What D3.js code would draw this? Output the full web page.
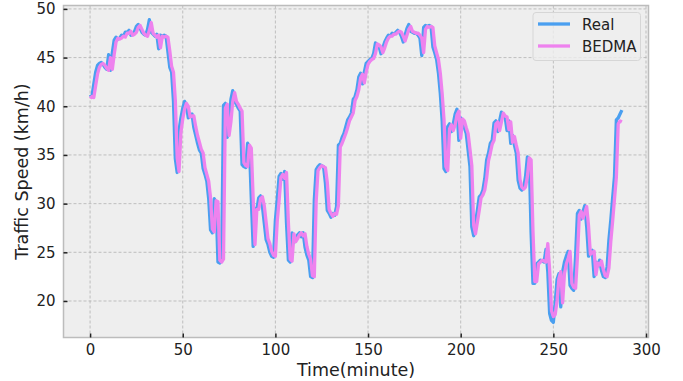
<!DOCTYPE html>
<html>
<head>
<meta charset="utf-8">
<script src="https://cdn.jsdelivr.net/npm/d3@7"></script>
<style>
  html, body { margin: 0; padding: 0; background: #ffffff; }
  svg { display: block; font-family: "DejaVu Sans", sans-serif; }
</style>
</head>
<body>
<svg id="chart" width="683" height="381"></svg>
<script>
// Traffic speed (km/h) sampled every minute, measured vs. BEDMA prediction
const realSpeed = [
  41.2, 41.0, 42.3, 43.5, 44.2, 44.4, 44.5, 44.3, 44.0, 43.8,
  45.3, 43.7, 45.5, 46.8, 47.1, 46.9, 47.0, 47.3, 47.2, 47.6,
  47.6, 47.8, 47.3, 47.4, 47.7, 48.2, 48.4, 48.0, 47.6, 47.4,
  47.3, 47.9, 48.9, 47.6, 47.4, 47.2, 47.4, 45.9, 47.3, 47.2,
  47.3, 47.2, 45.6, 44.0, 43.5, 40.5, 34.6, 33.2, 37.5, 38.8,
  39.8, 40.5, 40.1, 38.8, 39.0, 39.2, 37.8, 37.0, 36.2, 35.5,
  35.2, 33.6, 33.0, 32.3, 30.5, 27.3, 27.0, 30.5, 30.2, 24.0,
  23.9, 24.2, 40.1, 40.3, 36.8, 38.5, 40.7, 41.6, 40.5, 40.2,
  39.8, 39.5, 34.0, 33.8, 33.7, 36.2, 35.8, 30.5, 25.6, 29.5,
  29.4, 30.6, 30.8, 29.7, 28.0, 26.3, 25.8, 25.0, 24.6, 24.5,
  28.3, 30.4, 32.8, 33.1, 32.5, 33.3, 28.0, 24.2, 24.0, 27.0,
  26.0, 26.4, 26.8, 27.0, 26.6, 27.0, 25.5, 24.7, 24.2, 22.5,
  22.4, 30.4, 33.5, 33.8, 34.0, 33.9, 33.8, 32.1, 29.3, 29.0,
  28.6, 29.0, 28.8, 29.7, 36.0, 36.2, 36.8, 37.2, 37.9, 38.6,
  38.9, 39.3, 40.7, 41.0, 41.7, 43.0, 43.4, 42.3, 43.5, 44.4,
  44.6, 44.8, 44.9, 45.4, 46.5, 46.3, 46.1, 45.4, 46.0, 46.6,
  47.0, 47.3, 47.2, 47.5, 47.4, 47.6, 47.8, 47.6, 47.2, 46.6,
  47.3, 48.0, 48.4, 47.7, 47.6, 47.5, 47.5, 47.3, 47.0, 45.2,
  48.1, 48.3, 48.2, 48.3, 48.2, 46.1, 45.5, 44.8, 43.4, 41.3,
  38.5, 33.6, 33.3, 37.9, 38.2, 37.4, 38.2, 39.2, 39.7, 36.5,
  38.8, 38.5, 37.8, 37.2, 35.5, 33.8, 27.6, 26.7, 28.0, 29.3,
  30.7, 30.9, 31.4, 32.6, 34.5, 35.2, 36.2, 36.5, 38.3, 38.5,
  37.4, 38.5, 39.4, 39.0, 38.9, 37.5, 38.5, 36.2, 37.0, 36.0,
  35.2, 32.4, 31.6, 31.4, 31.6, 32.8, 34.8, 34.6, 27.0, 21.8,
  21.8, 23.8, 24.0, 24.2, 24.1, 24.0, 25.3, 23.0, 18.7, 18.0,
  17.8, 19.8, 22.2, 22.8, 19.4, 23.0, 24.0, 24.6, 25.1, 21.6,
  21.3, 21.1, 24.6, 29.0, 29.3, 28.4, 29.2, 29.8, 27.6, 24.6,
  25.0, 25.2, 22.5, 24.0, 23.6, 24.2, 23.1, 22.5, 22.4, 23.5,
  26.3, 28.3, 30.6, 32.8, 38.6, 38.8, 39.2, 39.6
];

const bedmaSpeed = [
  40.8, 41.0, 40.9, 42.1, 43.3, 44.0, 44.3, 44.4, 44.2, 43.9,
  43.7, 45.0, 43.8, 45.3, 46.6, 47.0, 46.9, 47.0, 47.2, 47.1,
  47.5, 47.5, 47.7, 47.3, 47.4, 47.6, 48.1, 48.3, 47.9, 47.5,
  47.3, 47.2, 47.8, 48.6, 47.5, 47.3, 47.1, 47.3, 46.0, 47.2,
  47.1, 47.2, 47.1, 45.7, 44.1, 43.5, 40.6, 34.7, 33.3, 37.3,
  38.7, 39.7, 40.3, 40.0, 38.9, 39.0, 39.0, 37.9, 37.0, 36.3,
  35.6, 35.2, 33.7, 33.0, 32.3, 30.6, 27.4, 27.1, 30.3, 30.2,
  24.2, 24.0, 24.3, 39.8, 40.2, 37.0, 38.4, 40.5, 41.4, 40.5,
  40.2, 39.8, 39.5, 34.2, 33.9, 33.8, 36.0, 35.7, 30.6, 25.8,
  29.4, 29.4, 30.5, 30.7, 29.8, 28.1, 26.4, 25.9, 25.1, 24.7,
  24.6, 28.2, 30.3, 32.7, 33.0, 32.6, 33.2, 28.1, 24.3, 24.1,
  26.9, 26.1, 26.4, 26.8, 27.0, 26.7, 26.9, 25.6, 24.8, 24.3,
  22.6, 22.5, 30.2, 33.4, 33.7, 33.9, 33.8, 33.7, 32.2, 29.4,
  29.0, 28.7, 29.0, 28.9, 29.8, 35.8, 36.2, 36.7, 37.2, 37.8,
  38.5, 38.9, 39.3, 40.6, 41.0, 41.7, 42.9, 43.3, 42.4, 43.5,
  44.3, 44.6, 44.8, 44.9, 45.4, 46.4, 46.3, 46.1, 45.5, 46.0,
  46.6, 47.0, 47.2, 47.2, 47.4, 47.4, 47.6, 47.7, 47.6, 47.2,
  46.7, 47.3, 47.9, 48.2, 47.7, 47.6, 47.5, 47.5, 47.3, 47.0,
  45.5, 47.9, 48.2, 48.1, 48.2, 48.1, 46.2, 45.5, 44.8, 43.4,
  41.3, 38.6, 33.8, 33.4, 37.7, 38.1, 37.5, 38.1, 39.1, 39.5,
  36.7, 38.7, 38.5, 37.8, 37.2, 35.6, 33.9, 27.8, 26.9, 28.1,
  29.3, 30.6, 30.9, 31.4, 32.6, 34.4, 35.2, 36.1, 36.5, 38.2,
  38.4, 37.5, 38.4, 39.3, 39.0, 38.9, 37.6, 38.4, 36.3, 36.9,
  36.0, 35.2, 32.5, 31.7, 31.5, 31.7, 32.8, 34.7, 34.5, 27.2,
  22.0, 22.0, 23.8, 24.0, 24.2, 24.1, 24.0, 25.9, 23.2, 19.0,
  18.4, 18.6, 20.0, 22.3, 23.0, 19.8, 22.8, 23.8, 24.4, 25.1,
  21.8, 21.4, 21.3, 24.5, 28.8, 29.2, 28.5, 29.1, 29.7, 27.7,
  24.8, 25.0, 25.1, 22.7, 23.9, 23.7, 24.1, 23.2, 22.6, 22.5,
  23.4, 26.1, 28.2, 30.5, 32.7, 38.2, 38.5, 38.4
];

const xTicks = [0, 50, 100, 150, 200, 250, 300];
const yTicks = [20, 25, 30, 35, 40, 45, 50];
const seriesNames = ["Real", "BEDMA"];
const seriesColors = ["#4a9ff0", "#ee82ee"];

const svg = d3.select("#chart");
const plot = { left: 63.5, right: 648.5, top: 5.5, bottom: 337.5 };

const x = d3.scaleLinear().domain([-14.35, 301.35]).range([plot.left, plot.right]);
const y = d3.scaleLinear().domain([16.25, 50.35]).range([plot.bottom, plot.top]);

// axes background
svg.append("rect")
  .attr("x", plot.left).attr("y", plot.top)
  .attr("width", plot.right - plot.left).attr("height", plot.bottom - plot.top)
  .attr("fill", "#eeeeee");

// dashed grid
const grid = svg.append("g").attr("stroke", "#b2b2b2").attr("stroke-width", 0.8)
  .attr("stroke-dasharray", "3,2");
grid.selectAll(".gx").data(xTicks).join("line")
  .attr("x1", d => x(d)).attr("x2", d => x(d))
  .attr("y1", plot.top).attr("y2", plot.bottom);
grid.selectAll(".gy").data(yTicks).join("line")
  .attr("x1", plot.left).attr("x2", plot.right)
  .attr("y1", d => y(d)).attr("y2", d => y(d));

// series lines
const line = d3.line().x((d, i) => x(i)).y(d => y(d));
[realSpeed, bedmaSpeed].forEach((s, k) => {
  svg.append("path")
    .datum(s)
    .attr("d", line)
    .attr("fill", "none")
    .attr("stroke", seriesColors[k])
    .attr("stroke-width", 3.3)
    .attr("stroke-linejoin", "round")
    .attr("stroke-linecap", "butt");
});

// frame
svg.append("rect")
  .attr("x", plot.left).attr("y", plot.top)
  .attr("width", plot.right - plot.left).attr("height", plot.bottom - plot.top)
  .attr("fill", "none").attr("stroke", "#bcbcbc").attr("stroke-width", 1.5);

// axes with inward ticks
const xAxis = d3.axisBottom(x).tickValues(xTicks).tickSize(-4).tickPadding(7);
const gx = svg.append("g").attr("transform", `translate(0,${plot.bottom})`).call(xAxis);
const yAxis = d3.axisLeft(y).tickValues(yTicks).tickSize(-4).tickPadding(8);
const gy = svg.append("g").attr("transform", `translate(${plot.left},0)`).call(yAxis);
[gx, gy].forEach(g => {
  g.select(".domain").remove();
  g.selectAll(".tick line").attr("stroke", "#222").attr("stroke-width", 1.5);
  g.selectAll(".tick text").attr("fill", "#222").attr("font-size", 15)
    .attr("font-family", "DejaVu Sans, sans-serif");
});

// axis titles
svg.append("text")
  .attr("x", (plot.left + plot.right) / 2).attr("y", 376)
  .attr("text-anchor", "middle").attr("font-size", 17.5).attr("fill", "#222")
  .text("Time(minute)");
svg.append("text")
  .attr("transform", `translate(28,${(plot.top + plot.bottom) / 2}) rotate(-90)`)
  .attr("text-anchor", "middle").attr("font-size", 17.5).attr("fill", "#222")
  .text("Traffic Speed (km/h)");

// legend
const legend = svg.append("g").attr("transform", "translate(533,12.5)");
legend.append("rect")
  .attr("width", 107.5).attr("height", 48).attr("rx", 3)
  .attr("fill", "#eeeeee").attr("fill-opacity", 0.8)
  .attr("stroke", "#d6d6d6").attr("stroke-width", 1);
seriesNames.forEach((name, i) => {
  const yy = 11.5 + i * 22;
  legend.append("line")
    .attr("x1", 5).attr("x2", 37).attr("y1", yy).attr("y2", yy)
    .attr("stroke", seriesColors[i]).attr("stroke-width", 3.3);
  legend.append("text")
    .attr("x", 49).attr("y", yy + 5.5).attr("font-size", 15).attr("fill", "#222")
    .text(name);
});
</script>
</body>
</html>
